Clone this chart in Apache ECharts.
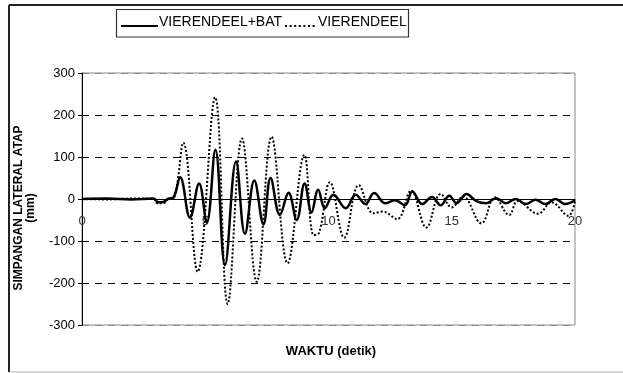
<!DOCTYPE html>
<html><head><meta charset="utf-8">
<script src="https://cdn.jsdelivr.net/npm/echarts@6/dist/echarts.min.js"></script>
<style>html,body{margin:0;padding:0;background:#fff}#c{width:623px;height:373px}</style>
</head><body><div id="c"></div>
<script>
// VIERENDEEL+BAT (solid)
const timeBat = [0,1,2,2.9,3.1,3.3,3.5,3.7,3.98,4.38,4.75,5.06,5.41,5.80,6.25,6.61,6.99,7.36,7.65,8.03,8.38,8.71,9.03,9.31,9.58,9.85,10.2,10.7,11.1,11.5,11.85,12.3,12.7,13.1,13.4,13.8,14.2,14.55,14.9,15.2,15.6,16.0,16.4,16.8,17.2,17.6,18.0,18.4,18.8,19.2,19.6,20];
const valBat  = [0,1,-1,1,-8,-7,1,3,52,-44,37,-56,117,-157,89,-83,44,-60,50,-38,15,-50,37,-32,22,-22,10,-22,10,-12,14,-10,-3,-15,18,-12,5,-15,8,-10,12,-5,-10,2,-10,0,-12,-2,-12,0,-12,-3];
// VIERENDEEL (dotted)
const timeVier = [0,1,2,2.9,3.05,3.3,3.5,3.75,4.11,4.69,5.40,5.91,6.49,7.09,7.69,8.34,9.02,9.40,9.62,10.06,10.64,11.23,11.82,12.2,12.78,13.35,13.97,14.55,15.0,15.45,16.2,16.75,17.33,17.68,18.5,19.05,19.73,20];
const valVier  = [0,-1,1,0,-10,-10,0,5,134,-173,242,-250,144,-197,148,-153,105,-86,-80,40,-92,33,-34,-30,-48,20,-68,12,-20,6,-58,4,-38,-5,-35,-8,-40,-5];
const seriesNames = ['VIERENDEEL+BAT','VIERENDEEL'];
const xTitle = 'WAKTU (detik)';
const yTitle = 'SIMPANGAN LATERAL ATAP\n(mm)';

const pairs = (t,v) => t.map((x,i)=>[x,v[i]]);
const FONT = 'Liberation Sans, Arial, sans-serif';
const GRID = {left:82,right:48,top:73,bottom:48};
const zeroOffset = -((373 - GRID.top - GRID.bottom) / 2);
const chart = echarts.init(document.getElementById('c'), null, {renderer:'canvas'});
chart.setOption({
  animation:false,
  backgroundColor:'#fff',
  textStyle:{fontFamily:FONT},
  grid:Object.assign({show:true,borderColor:'#888',borderWidth:1,backgroundColor:'transparent'},GRID),
  xAxis:{
    type:'value', min:0, max:20, interval:5,
    offset:zeroOffset,
    axisLine:{onZero:false, lineStyle:{color:'#000',width:1}},
    axisTick:{show:false},
    axisLabel:{color:'#333',fontSize:13,margin:16,showMinLabel:true,showMaxLabel:true},
    splitLine:{show:false}
  },
  yAxis:{
    type:'value', min:-300, max:300, interval:100,
    axisLine:{show:true,lineStyle:{color:'#000',width:1}},
    axisTick:{show:true,length:4,lineStyle:{color:'#000'}},
    axisLabel:{color:'#000',fontSize:13,margin:7},
    splitLine:{show:true,lineStyle:{color:['#888','#000','#000','#000','#000','#000','#888'],type:[7,6],width:1}}
  },
  graphic:[
    {type:'line',shape:{x1:9,y1:5,x2:623,y2:5},style:{stroke:'#222',lineWidth:2},silent:true},
    {type:'line',shape:{x1:9,y1:5,x2:9,y2:372},style:{stroke:'#222',lineWidth:2},silent:true},
    {type:'line',shape:{x1:9,y1:372,x2:623,y2:372},style:{stroke:'#aaa',lineWidth:1},silent:true},
    // legend
    {type:'rect',shape:{x:116.5,y:9.5,width:292,height:27.5},style:{fill:'#fff',stroke:'#333',lineWidth:1.2},silent:true},
    {type:'line',shape:{x1:121,y1:26,x2:158,y2:26},style:{stroke:'#000',lineWidth:2},silent:true},
    {type:'text',x:159,y:22,style:{text:seriesNames[0],fontFamily:FONT,fontSize:14,fill:'#000',textAlign:'left',textVerticalAlign:'middle'},silent:true},
    {type:'line',shape:{x1:285,y1:26,x2:317,y2:26},style:{stroke:'#000',lineWidth:2,lineDash:[2,2.6]},silent:true},
    {type:'text',x:318,y:22,style:{text:seriesNames[1],fontFamily:FONT,fontSize:14,fill:'#000',textAlign:'left',textVerticalAlign:'middle'},silent:true},
    // axis titles
    {type:'text',x:25,y:208,rotation:Math.PI/2,style:{text:yTitle,fontFamily:FONT,fontWeight:'bold',fontSize:12,fill:'#000',textAlign:'center',textVerticalAlign:'middle',lineHeight:12},silent:true},
    {type:'text',x:331,y:351,style:{text:xTitle,fontFamily:FONT,fontWeight:'bold',fontSize:13,fill:'#000',textAlign:'center',textVerticalAlign:'middle'},silent:true}
  ],
  series:[
    {name:seriesNames[0],type:'line',data:pairs(timeBat,valBat),smooth:0.4,symbol:'none',
     lineStyle:{color:'#000',width:2.5},itemStyle:{color:'#000'},z:3},
    {name:seriesNames[1],type:'line',data:pairs(timeVier,valVier),smooth:0.4,symbol:'none',
     lineStyle:{color:'#000',width:2,type:[2,2]},itemStyle:{color:'#000'},z:2}
  ]
});
</script></body></html>
